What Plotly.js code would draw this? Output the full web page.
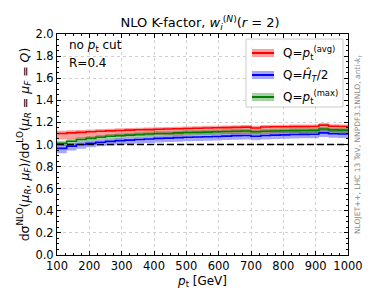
<!DOCTYPE html>
<html><head><meta charset="utf-8">
<script src="https://cdn.plot.ly/plotly-3.0.1.min.js"></script>
<style>body{margin:0;background:#fff}#c{width:374px;height:299px}</style>
</head><body><div id="c"></div>
<script>
// bin edges in pT [GeV]
const binEdges = [100,130,160,190,220,250,280,310,340,370,400,430,460,490,520,550,580,610,640,670,700,730,760,790,820,850,880,910,940,970,1000];
// K-factor central values per bin
const kAvg  = [1.100,1.105,1.110,1.115,1.120,1.123,1.127,1.130,1.133,1.135,1.138,1.140,1.142,1.145,1.147,1.150,1.151,1.153,1.155,1.157,1.150,1.158,1.160,1.160,1.162,1.162,1.163,1.175,1.165,1.163];
const kHT   = [0.965,0.985,1.000,1.010,1.020,1.028,1.035,1.040,1.045,1.050,1.055,1.058,1.062,1.065,1.068,1.070,1.073,1.076,1.080,1.082,1.075,1.082,1.085,1.087,1.090,1.092,1.093,1.105,1.097,1.095];
const kMax  = [1.010,1.030,1.045,1.055,1.065,1.075,1.080,1.085,1.090,1.095,1.100,1.100,1.105,1.108,1.110,1.112,1.115,1.117,1.120,1.122,1.115,1.120,1.122,1.125,1.126,1.127,1.128,1.140,1.132,1.130];
// scale-band edges (lower / upper) per bin
const avgLo = [1.045,1.050,1.055,1.060,1.065,1.068,1.072,1.075,1.078,1.080,1.083,1.085,1.087,1.090,1.092,1.095,1.096,1.098,1.100,1.102,1.095,1.103,1.105,1.105,1.107,1.107,1.108,1.120,1.110,1.108];
const avgHi = [1.125,1.128,1.132,1.136,1.140,1.143,1.146,1.149,1.152,1.154,1.157,1.159,1.161,1.164,1.166,1.169,1.170,1.172,1.174,1.176,1.169,1.177,1.179,1.179,1.181,1.181,1.182,1.195,1.184,1.182];
const htLo  = [0.920,0.945,0.962,0.974,0.984,0.992,0.999,1.004,1.009,1.014,1.019,1.022,1.026,1.029,1.032,1.034,1.037,1.040,1.044,1.046,1.039,1.046,1.049,1.051,1.054,1.056,1.057,1.068,1.060,1.058];
const htHi  = [0.995,1.012,1.025,1.035,1.044,1.052,1.058,1.063,1.068,1.073,1.078,1.081,1.085,1.088,1.091,1.093,1.096,1.099,1.103,1.105,1.098,1.105,1.108,1.110,1.113,1.115,1.116,1.128,1.120,1.118];
const maxLo = [0.985,1.005,1.020,1.030,1.040,1.050,1.055,1.060,1.065,1.070,1.075,1.075,1.080,1.083,1.085,1.087,1.090,1.092,1.095,1.097,1.090,1.095,1.097,1.100,1.101,1.102,1.103,1.115,1.107,1.105];
const maxHi = [1.035,1.052,1.065,1.075,1.085,1.095,1.100,1.105,1.110,1.115,1.120,1.120,1.125,1.128,1.130,1.132,1.135,1.137,1.140,1.142,1.135,1.140,1.142,1.145,1.146,1.147,1.148,1.160,1.152,1.150];
const xTicks = [100,200,300,400,500,600,700,800,900,1000];
const yTicks = [0,0.2,0.4,0.6,0.8,1.0,1.2,1.4,1.6,1.8,2.0];

const ext = a => a.concat([a[a.length-1]]);
const FONT = 'DejaVu Sans, sans-serif';

function band(lo, hi, mid, col, fillcol){
  return [
    {x: binEdges, y: ext(lo), type:'scatter', mode:'lines', line:{shape:'hv', width:0, color:fillcol}, showlegend:false, hoverinfo:'skip'},
    {x: binEdges, y: ext(hi), type:'scatter', mode:'lines', fill:'tonexty', fillcolor:fillcol, line:{shape:'hv', width:0, color:fillcol}, showlegend:false, hoverinfo:'skip'},
    {x: binEdges, y: ext(mid), type:'scatter', mode:'lines', line:{shape:'hv', width:1.6, color:col}, showlegend:false}
  ];
}

const traces = [].concat(
  band(avgLo, avgHi, kAvg, '#ff0000', 'rgba(255,0,0,0.38)'),
  band(htLo, htHi, kHT, '#0000ff', 'rgba(0,0,255,0.35)'),
  band(maxLo, maxHi, kMax, '#007f00', 'rgba(0,128,0,0.35)'),
  [{x:[100,1000], y:[1,1], type:'scatter', mode:'lines', line:{color:'black', width:1.3, dash:'7px,3px'}, showlegend:false}]
);

// manual legend (paper coords)
const legItems = [
  {label:'Q=<i>p</i><sub>t</sub><sup>(avg)</sup>', col:'#ff0000', fill:'rgba(255,0,0,0.38)'},
  {label:'Q=<i>Ĥ</i><sub><i>T</i></sub>/2', col:'#0000ff', fill:'rgba(0,0,255,0.35)'},
  {label:'Q=<i>p</i><sub>t</sub><sup>(max)</sup>', col:'#007f00', fill:'rgba(0,128,0,0.35)'}
];
const pw = 291, ph = 221;
const px = v => (v-57)/pw, py = v => (255-v)/ph;
const shapes = [{type:'rect', xref:'paper', yref:'paper', x0:px(246), x1:px(343), y0:py(107), y1:py(39), line:{color:'#cccccc', width:1}, fillcolor:'rgba(255,255,255,0.85)'}];
const annotations = [];
legItems.forEach((it,i)=>{
  const yc = 53 + i*22;
  shapes.push({type:'rect', xref:'paper', yref:'paper', x0:px(252), x1:px(274), y0:py(yc+4), y1:py(yc-4), line:{width:0}, fillcolor:it.fill});
  shapes.push({type:'line', xref:'paper', yref:'paper', x0:px(252), x1:px(274), y0:py(yc), y1:py(yc), line:{color:it.col, width:2}});
  annotations.push({xref:'paper', yref:'paper', x:px(281), y:py(yc), xanchor:'left', yanchor:'middle', text:it.label, showarrow:false, font:{family:FONT, size:12, color:'black'}});
});
annotations.push({xref:'paper', yref:'paper', x:px(67), y:py(46), xanchor:'left', yanchor:'middle', text:'no <i>p</i><sub>t</sub> cut', showarrow:false, font:{family:FONT, size:12, color:'black'}});
annotations.push({xref:'paper', yref:'paper', x:px(67), y:py(63), xanchor:'left', yanchor:'middle', text:'R=0.4', showarrow:false, font:{family:FONT, size:12, color:'black'}});
annotations.push({xref:'paper', yref:'paper', x:px(358), y:py(145), xanchor:'center', yanchor:'middle', textangle:-90, text:'NLOJET++, LHC 13 TeV, NNPDF3.1NNLO, anti-<i>k</i><sub><i>t</i></sub>', showarrow:false, font:{family:FONT, size:7.5, color:'#888888'}});

const axCommon = {showline:true, mirror:'ticks', linecolor:'black', linewidth:1, ticks:'inside', ticklen:4, tickcolor:'black',
  showgrid:true, gridcolor:'#d0d0d0', griddash:'dot', gridwidth:1, zeroline:false, tickfont:{family:FONT, size:11.5, color:'black'}};

const layout = {
  width:374, height:299, margin:{l:57, r:26, t:34, b:44},
  paper_bgcolor:'white', plot_bgcolor:'white',
  title:{text:'NLO K-factor, <i>w</i><sub><i>i</i></sub><sup>(<i>N</i>)</sup>(<i>r</i> = 2)', font:{family:FONT, size:13, color:'black'}, x:0.535, xanchor:'center', y:0.925, yanchor:'middle'},
  xaxis: Object.assign({}, axCommon, {range:[100,1000], tickvals:xTicks, ticktext:xTicks.map(String),
    minor:{ticks:'inside', ticklen:2, tickcolor:'black', dtick:25, showgrid:false},
    title:{text:'<i>p</i><sub>t</sub> [GeV]', font:{family:FONT, size:12, color:'black'}, standoff:4}}),
  yaxis: Object.assign({}, axCommon, {range:[0,2], tickvals:yTicks, ticktext:yTicks.map(v=>v.toFixed(1)),
    minor:{ticks:'inside', ticklen:2, tickcolor:'black', dtick:0.05, showgrid:false},
    title:{text:'dσ<sup>NLO</sup>(<i>μ</i><sub><i>R</i></sub>, <i>μ</i><sub><i>F</i></sub>)/dσ<sup>LO</sup>(<i>μ</i><sub><i>R</i></sub> = <i>μ</i><sub><i>F</i></sub> = <i>Q</i>)', font:{family:FONT, size:12.5, color:'black'}, standoff:3}}),
  shapes: shapes, annotations: annotations, showlegend:false
};
Plotly.newPlot('c', traces, layout, {staticPlot:true, displayModeBar:false});
</script></body></html>
